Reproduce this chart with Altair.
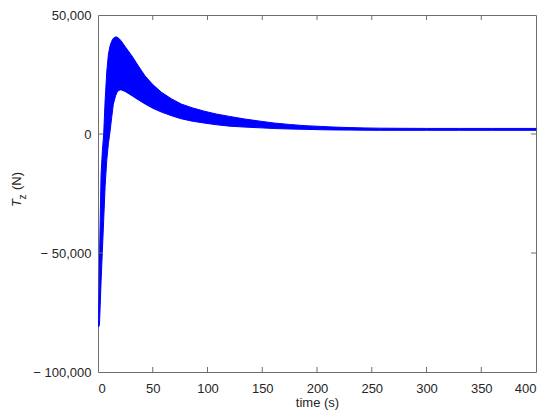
import altair as alt
import pandas as pd

# time grid (s) and envelope of the oscillating T_z signal (N)
t_vals = [0.5, 1.2, 1.5, 2.0, 2.8, 4.0, 5.2, 6.5, 8, 9.5, 11, 12.5, 14, 16, 17.5, 19, 21, 25, 31, 37,
          43, 50, 58, 67, 76, 86, 97, 108, 120, 134, 148, 161, 175, 189, 203, 216, 230, 243, 257,
          275, 300, 330, 360, 400]
upper_vals = [-80000, -58000, -49000, -36000, -17000, -7000, 0, 14000, 26000, 33500, 37000, 39000,
              40200, 40800, 40700, 40200, 39200, 36600, 32800, 28500, 24400, 20800, 17500, 14800,
              12600, 11000, 9600, 8400, 7400, 6300, 5400, 4600, 4000, 3500, 3200, 2900, 2700, 2550,
              2450, 2400, 2350, 2350, 2350, 2350]
lower_vals = [-81000, -80500, -78000, -72000, -62000, -49000, -36000, -22000, -11000, -4000, 1000, 7000,
              12500, 16000, 17600, 18300, 18600, 17800, 16100, 14300, 12600, 10800, 9200, 7700, 6400,
              5400, 4600, 3900, 3300, 2900, 2600, 2300, 2100, 1950, 1800, 1700, 1650, 1600, 1550,
              1550, 1550, 1550, 1550, 1550]

x_ticks = [0, 50, 100, 150, 200, 250, 300, 350, 400]
y_ticks = [-100000, -50000, 0, 50000]

band = pd.DataFrame({"t": t_vals, "upper": upper_vals, "lower": lower_vals})
xt = pd.DataFrame({"t": x_ticks[1:-1]})
yt = pd.DataFrame({"upper": y_ticks[1:-1]})

W, H = 438, 357
FONT = "Liberation Sans"
FRAME = "#6e6e6e"
TXT = "#262626"

xscale = alt.Scale(domain=[0, 400], nice=False, zero=False)
yscale = alt.Scale(domain=[-100000, 50000], nice=False, zero=False)

label_expr = "datum.value < 0 ? '\u2212 ' + format(-datum.value, ',') : format(datum.value, ',')"

area = alt.Chart(band).mark_area(
    color="#0000ff", stroke="#0000ff", strokeWidth=1, opacity=1, interpolate="linear"
).encode(
    x=alt.X("t:Q", scale=xscale,
            axis=alt.Axis(values=x_ticks, title="time (s)", domain=False, ticks=False,
                          grid=False, labelPadding=10, titlePadding=1, labelFontSize=13,
                          titleFontSize=13, titleFontWeight="normal", labelColor=TXT,
                          titleColor=TXT, labelFont=FONT, titleFont=FONT)),
    y=alt.Y("upper:Q", scale=yscale,
            axis=alt.Axis(values=y_ticks, title="", domain=False, ticks=False, grid=False,
                          labelPadding=7, labelFontSize=13, labelColor=TXT,
                          labelFont=FONT, labelExpr=label_expr)),
    y2="lower:Q",
)

tick_len = 5
xb = alt.Chart(xt).mark_rule(color=FRAME, strokeWidth=1).encode(
    x=alt.X("t:Q", scale=xscale), y=alt.value(H), y2=alt.value(H - tick_len))
xtp = alt.Chart(xt).mark_rule(color=FRAME, strokeWidth=1).encode(
    x=alt.X("t:Q", scale=xscale), y=alt.value(0), y2=alt.value(tick_len))
yl = alt.Chart(yt).mark_rule(color=FRAME, strokeWidth=1).encode(
    y=alt.Y("upper:Q", scale=yscale), x=alt.value(0), x2=alt.value(tick_len))
yr = alt.Chart(yt).mark_rule(color=FRAME, strokeWidth=1).encode(
    y=alt.Y("upper:Q", scale=yscale), x=alt.value(W), x2=alt.value(W - tick_len))

# y-axis title: italic T with subscript z, then (N)
title_T = alt.Chart(pd.DataFrame({"s": ["T"]})).mark_text(
    angle=270, font=FONT, fontSize=13, fontStyle="italic", color=TXT,
    align="center", baseline="alphabetic").encode(
    text="s:N", x=alt.value(-77), y=alt.value(188))
title_z = alt.Chart(pd.DataFrame({"s": ["z"]})).mark_text(
    angle=270, font=FONT, fontSize=10, color=TXT,
    align="center", baseline="alphabetic").encode(
    text="s:N", x=alt.value(-72), y=alt.value(182))
title_N = alt.Chart(pd.DataFrame({"s": ["(N)"]})).mark_text(
    angle=270, font=FONT, fontSize=13, color=TXT,
    align="center", baseline="alphabetic").encode(
    text="s:N", x=alt.value(-77), y=alt.value(166))

chart = alt.layer(area, xb, xtp, yl, yr, title_T, title_z, title_N).properties(
    width=W, height=H,
    autosize=alt.AutoSizeParams(type="none"),
    padding={"left": 90, "top": 7, "right": 6, "bottom": 40},
    background="white",
).configure_view(stroke=FRAME, strokeWidth=1)

chart.save("out.html", embed_options={"renderer": "svg", "actions": False})
